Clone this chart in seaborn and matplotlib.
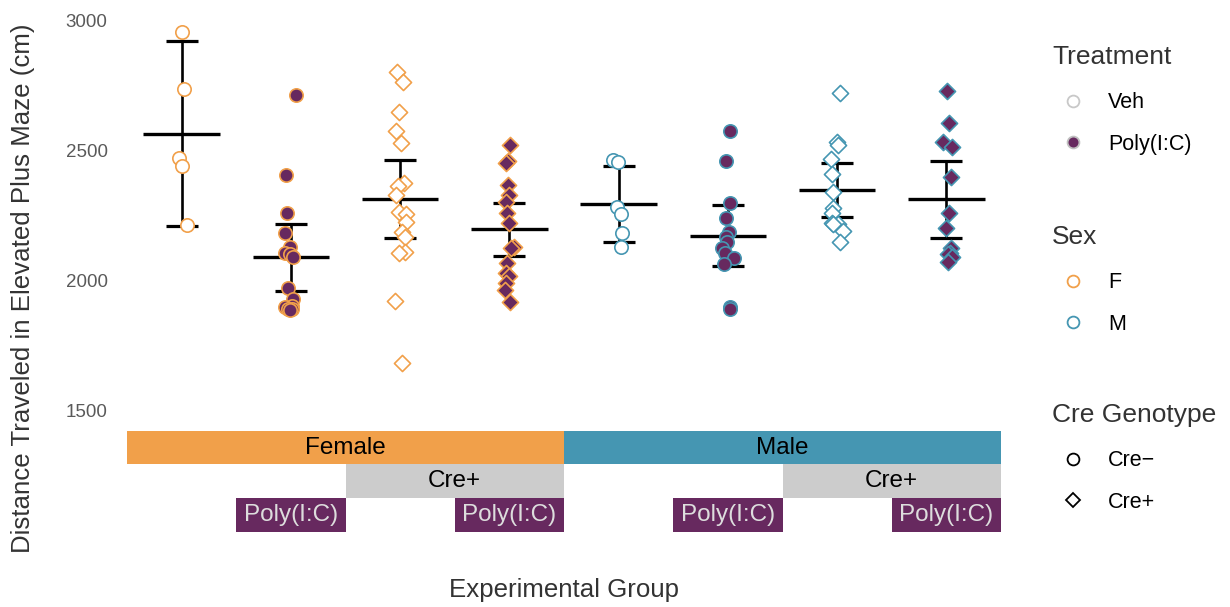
import numpy as np
import pandas as pd
import matplotlib
matplotlib.use("Agg")
import matplotlib.pyplot as plt
from matplotlib.lines import Line2D
import seaborn as sns
import math

# ---------------- data ----------------
group_names = ["F Cre- Veh", "F Cre- Poly", "F Cre+ Veh", "F Cre+ Poly",
               "M Cre- Veh", "M Cre- Poly", "M Cre+ Veh", "M Cre+ Poly"]
group_sex = ["F", "F", "F", "F", "M", "M", "M", "M"]
group_cre = ["Cre-", "Cre-", "Cre+", "Cre+", "Cre-", "Cre-", "Cre+", "Cre+"]
group_trt = ["Veh", "Poly(I:C)", "Veh", "Poly(I:C)", "Veh", "Poly(I:C)", "Veh", "Poly(I:C)"]

f_creneg_veh = [2953, 2735, 2470, 2440, 2212]
f_creneg_poly = [2710, 2405, 2259, 2180, 2126, 2105, 2100, 2087, 1968, 1926,
                 1900, 1898, 1890, 1887, 1884]
f_crepos_veh = [2801, 2763, 2647, 2574, 2526, 2372, 2360, 2328, 2262, 2255,
                2225, 2185, 2165, 2108, 2104, 1920, 1682]
f_crepos_poly = [2519, 2459, 2449, 2365, 2327, 2301, 2257, 2218, 2128, 2122,
                 2064, 2026, 2017, 1987, 1962, 1917]
m_creneg_veh = [2462, 2453, 2282, 2253, 2180, 2126]
m_creneg_poly = [2574, 2459, 2297, 2237, 2185, 2165, 2148, 2122, 2105, 2085,
                 2062, 1897, 1887]
m_crepos_veh = [2720, 2532, 2519, 2465, 2407, 2338, 2276, 2259, 2220, 2215,
                2215, 2190, 2147]
m_crepos_poly = [2728, 2603, 2532, 2513, 2397, 2259, 2199, 2122, 2105, 2100,
                 2090, 2070]
group_values = [f_creneg_veh, f_creneg_poly, f_crepos_veh, f_crepos_poly,
                m_creneg_veh, m_creneg_poly, m_crepos_veh, m_crepos_poly]

y_ticks = [1500, 2000, 2500, 3000]

# annotation bands: (label, first group index, last group index)
sex_bands = [("Female", 0, 3), ("Male", 4, 7)]
cre_bands = [("Cre+", 2, 3), ("Cre+", 6, 7)]
poly_bands = [("Poly(I:C)", 1, 1), ("Poly(I:C)", 3, 3), ("Poly(I:C)", 5, 5), ("Poly(I:C)", 7, 7)]
band_rows = [(1291, 1419), (1161, 1291), (1031, 1161)]

# ---------------- style ----------------
ORANGE = "#F1A04A"
BLUE = "#4596B2"
PURPLE = "#67295F"
GREY = "#CCCCCC"
sex_color = {"F": ORANGE, "M": BLUE}
trt_fill = {"Veh": "white", "Poly(I:C)": PURPLE}
cre_marker = {"Cre-": "o", "Cre+": "D"}
cre_size = {"Cre-": 9.6, "Cre+": 8.2}

sns.set_theme(style="white")
plt.rcParams["font.family"] = ["Liberation Sans", "DejaVu Sans"]

rows = []
for g, vals in zip(group_names, group_values):
    for v in vals:
        rows.append({"group": g, "distance": v})
df = pd.DataFrame(rows)


def t975(dfree):
    xs = np.linspace(0, 20, 40001)
    c = math.gamma((dfree + 1) / 2) / (math.sqrt(dfree * math.pi) * math.gamma(dfree / 2))
    pdf = c * (1 + xs ** 2 / dfree) ** (-(dfree + 1) / 2)
    cdf = np.concatenate([[0], np.cumsum((pdf[1:] + pdf[:-1]) / 2 * np.diff(xs))])
    return float(np.interp(0.475, cdf, xs))


fig = plt.figure(figsize=(12.3, 6.07), dpi=100)
ax = fig.add_axes([127 / 1230, 1 - 532 / 607, 874 / 1230, (532 - 9.6) / 607])

# summary: mean and t-based 95% CI
means, cis = [], []
for vals in group_values:
    a = np.asarray(vals, float)
    n = len(a)
    means.append(a.mean())
    cis.append(t975(n - 1) * a.std(ddof=1) / np.sqrt(n))
pos = np.arange(len(group_names))
ax.errorbar(pos, means, yerr=cis, fmt="none", ecolor="black", elinewidth=1.9,
            capsize=11.5, capthick=2.3, zorder=2)
ax.hlines(means, pos - 0.35, pos + 0.35, colors="black", linewidth=2.4, zorder=2)

np.random.seed(3)
for i, g in enumerate(group_names):
    sub = df[df["group"] == g]
    sns.stripplot(data=sub, x="group", y="distance", order=group_names, ax=ax,
                  jitter=0.06, marker=cre_marker[group_cre[i]], size=cre_size[group_cre[i]],
                  color=trt_fill[group_trt[i]], edgecolor=sex_color[group_sex[i]],
                  linewidth=1.2, zorder=3)

# annotation bands
def draw_bands(bands, row, face, tcolor):
    lo, hi = band_rows[row]
    for lab, a, b in bands:
        ax.bar((a + b) / 2, hi - lo, bottom=lo, width=b - a + 1, color=face,
               linewidth=0, zorder=1)
        ax.text((a + b) / 2, (lo + hi) / 2, lab, ha="center", va="center",
                fontsize=17.5, color=tcolor, zorder=2)

lo0, hi0 = band_rows[0]
for lab, a, b in sex_bands:
    face = ORANGE if lab == "Female" else BLUE
    ax.bar((a + b) / 2, hi0 - lo0, bottom=lo0, width=b - a + 1, color=face,
           linewidth=0, zorder=1)
    ax.text((a + b) / 2, (lo0 + hi0) / 2, lab, ha="center", va="center",
            fontsize=17.5, color="black", zorder=2)
draw_bands(cre_bands, 1, GREY, "black")
draw_bands(poly_bands, 2, PURPLE, "#DDDDDD")

ax.set_xlim(-0.5, 7.5)
ax.set_ylim(1031, 3040)
ax.set_yticks(y_ticks)
ax.set_yticklabels([str(t) for t in y_ticks], fontsize=13.5, color="#5A5A5A")
ax.tick_params(axis="y", length=0, pad=14)
ax.set_xticks([])
ax.set_xlabel("")
ax.set_ylabel("")
for s in ax.spines.values():
    s.set_visible(False)
ax.grid(False)

fig.text(23 / 1230, 1 - 288 / 607, "Distance Traveled in Elevated Plus Maze (cm)",
         rotation=90, ha="center", va="center", fontsize=18.6, color="#333333")
fig.text(564 / 1230, 1 - 590 / 607, "Experimental Group", ha="center", va="center",
         fontsize=18.6, color="#333333")

# legends
def mk(marker, face, edge, ms):
    return Line2D([], [], linestyle="", marker=marker, markerfacecolor=face,
                  markeredgecolor=edge, markersize=ms, markeredgewidth=1.3)

leg_specs = [
    ("Treatment", [mk("o", "white", "#C8C8C8", 8.5), mk("o", PURPLE, "#C0C0C0", 8.5)],
     ["Veh", "Poly(I:C)"], 45),
    ("Sex", [mk("o", "white", ORANGE, 8.5), mk("o", "white", BLUE, 8.5)],
     ["F", "M"], 225),
    ("Cre Genotype", [mk("o", "white", "black", 8.5), mk("D", "white", "black", 7.5)],
     ["Cre\u2212", "Cre+"], 403),
]
for title, handles, labels, top in leg_specs:
    lg = fig.legend(handles, labels, title=title, loc="upper left",
                    bbox_to_anchor=(1052 / 1230, 1 - top / 607), frameon=False,
                    fontsize=15.5, title_fontsize=19, alignment="left",
                    borderpad=0, handlelength=1.95, handletextpad=0.65,
                    labelspacing=0.95, borderaxespad=0)
    lg.get_title().set_color("#333333")
    for t in lg.get_texts():
        t.set_color("black")
    lg._legend_box.sep = lg._legend_box.sep + 2

fig.savefig("out.png", dpi=100, facecolor="white")
